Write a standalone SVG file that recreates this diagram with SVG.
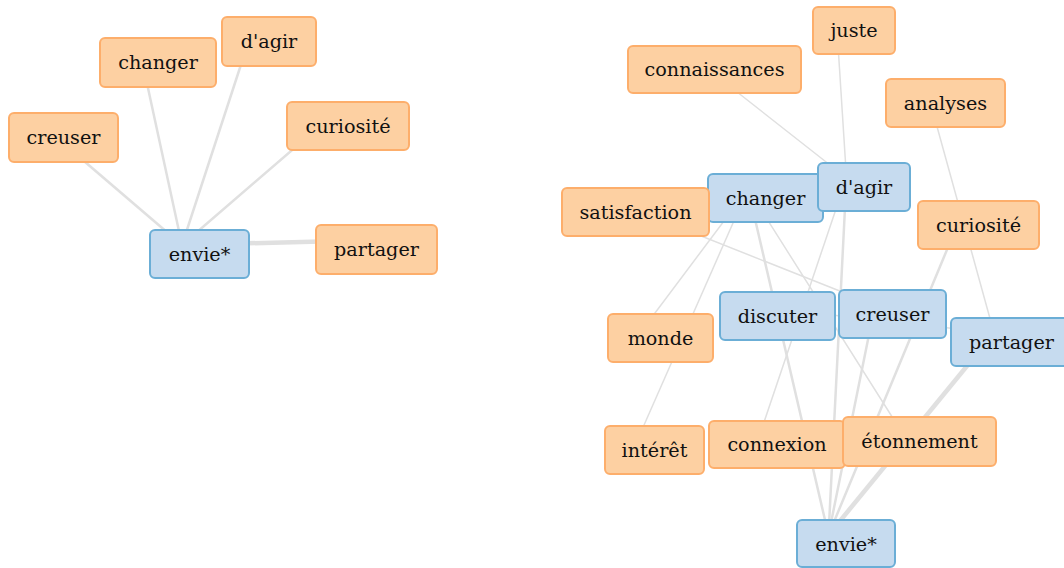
<svg xmlns="http://www.w3.org/2000/svg" width="1064" height="568" viewBox="0 0 1064 568">
  <style>
    .link { stroke: #e0e0e0; stroke-linecap: round; fill: none; }
    .w1 { stroke-width: 1.5; }
    .w2 { stroke-width: 2.5; }
    .w3 { stroke-width: 4.5; }
    .term rect { fill: #fdd0a2; stroke: #fdae6b; stroke-width: 2; }
    .hub rect { fill: #c6dbef; stroke: #6baed6; stroke-width: 2; }
    text { font-family: "DejaVu Serif", "Liberation Serif", serif; font-size: 19.2px; fill: #111111; text-anchor: middle; }
  </style>
  <rect width="1064" height="568" fill="#ffffff"/>

  <!-- connectors -->
  <g id="links">
    <!-- left cluster: everything to envie* -->
    <line class="link w2" x1="182" y1="245" x2="46" y2="128.5"/>
    <line class="link w2" x1="182" y1="245" x2="140.5" y2="53.5"/>
    <line class="link w2" x1="182" y1="245" x2="251.5" y2="32.5"/>
    <line class="link w2" x1="182" y1="245" x2="330.5" y2="117"/>
    <line class="link w3" x1="182" y1="245" x2="359" y2="240.5"/>

    <!-- right cluster -->
    <line class="link w1" x1="697" y1="60.5" x2="846.5" y2="178"/>
    <line class="link w1" x1="836.5" y1="21.5" x2="846.5" y2="178"/>
    <line class="link w1" x1="928" y1="94" x2="994" y2="333"/>
    <line class="link w1" x1="748" y1="189" x2="643" y2="329"/>
    <line class="link w1" x1="748" y1="189" x2="637" y2="441"/>
    <line class="link w1" x1="748" y1="189" x2="902" y2="432.5"/>
    <line class="link w1" x1="618" y1="203" x2="875" y2="305"/>
    <line class="link w1" x1="760" y1="307" x2="994" y2="333"/>
    <line class="link w1" x1="846.5" y1="178" x2="759.5" y2="435.5"/>
    <line class="link w2" x1="748" y1="189" x2="828.5" y2="535"/>
    <line class="link w2" x1="846.5" y1="178" x2="828.5" y2="535"/>
    <line class="link w2" x1="875" y1="305" x2="828.5" y2="535"/>
    <line class="link w2" x1="961" y1="216" x2="828.5" y2="535"/>
    <line class="link w3" x1="994" y1="333" x2="828.5" y2="535"/>
  </g>

  <!-- left cluster nodes -->
  <g id="l-creuser" class="term"><rect x="9" y="113" width="109" height="49" rx="5"/><text x="63.5" y="144">creuser</text></g>
  <g id="l-changer" class="term"><rect x="100" y="38" width="116" height="49" rx="5"/><text x="158" y="69">changer</text></g>
  <g id="l-dagir" class="term"><rect x="222" y="17" width="94" height="49" rx="5"/><text x="269" y="48">d'agir</text></g>
  <g id="l-curiosite" class="term"><rect x="287" y="102" width="122" height="48" rx="5"/><text x="348" y="132.5">curiosité</text></g>
  <g id="l-partager" class="term"><rect x="316" y="225" width="121" height="49" rx="5"/><text x="376.5" y="256">partager</text></g>
  <g id="l-envie" class="hub"><rect x="150" y="230" width="99" height="48" rx="5"/><text x="199.5" y="260.5">envie*</text></g>

  <!-- right cluster nodes -->
  <g id="r-juste" class="term"><rect x="813" y="7" width="82" height="47" rx="5"/><text x="854" y="37">juste</text></g>
  <g id="r-connaissances" class="term"><rect x="628" y="46" width="173" height="47" rx="5"/><text x="714.5" y="76">connaissances</text></g>
  <g id="r-analyses" class="term"><rect x="886" y="79" width="119" height="48" rx="5"/><text x="945.5" y="109.5">analyses</text></g>
  <g id="r-changer" class="hub"><rect x="708" y="174" width="115" height="48" rx="5"/><text x="765.5" y="204.5">changer</text></g>
  <g id="r-satisfaction" class="term"><rect x="562" y="188" width="147" height="48" rx="5"/><text x="635.5" y="218.5">satisfaction</text></g>
  <g id="r-dagir" class="hub"><rect x="818" y="163" width="92" height="48" rx="5"/><text x="864" y="193.5">d'agir</text></g>
  <g id="r-curiosite" class="term"><rect x="918" y="201" width="121" height="48" rx="5"/><text x="978.5" y="231.5">curiosité</text></g>
  <g id="r-discuter" class="hub"><rect x="720" y="292" width="115" height="48" rx="5"/><text x="777.5" y="322.5">discuter</text></g>
  <g id="r-creuser" class="hub"><rect x="839" y="290" width="107" height="48" rx="5"/><text x="892.5" y="320.5">creuser</text></g>
  <g id="r-partager" class="hub"><rect x="951" y="318" width="121" height="48" rx="5"/><text x="1011.5" y="348.5">partager</text></g>
  <g id="r-monde" class="term"><rect x="608" y="314" width="105" height="48" rx="5"/><text x="660.5" y="344.5">monde</text></g>
  <g id="r-interet" class="term"><rect x="605" y="426" width="99" height="48" rx="5"/><text x="654.5" y="456.5">intérêt</text></g>
  <g id="r-connexion" class="term"><rect x="709" y="421" width="136" height="47" rx="5"/><text x="777" y="451">connexion</text></g>
  <g id="r-etonnement" class="term"><rect x="843" y="417" width="153" height="49" rx="5"/><text x="919.5" y="447.5">étonnement</text></g>
  <g id="r-envie" class="hub"><rect x="797" y="520" width="98" height="47" rx="5"/><text x="846" y="550.5">envie*</text></g>
</svg>
